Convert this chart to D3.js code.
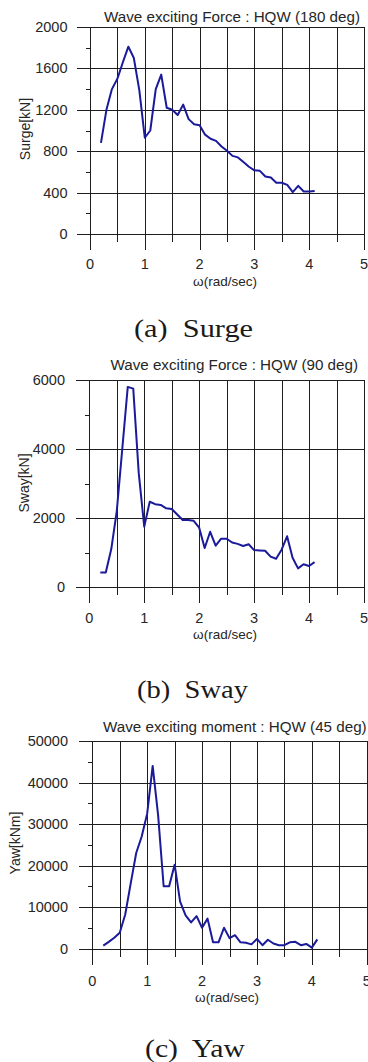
<!DOCTYPE html>
<html><head><meta charset="utf-8">
<script src="https://cdn.jsdelivr.net/npm/d3@7"></script>
<style>html,body{margin:0;padding:0;background:#fff;} svg{display:block;}</style>
</head><body>
<svg id="chart" width="368" height="1062"></svg>
<script>
// ---------------- data ----------------
const omega = [0.2,0.3,0.4,0.5,0.6,0.7,0.8,0.9,1.0,1.1,1.2,1.3,1.4,1.5,1.6,1.7,1.8,1.9,2.0,2.1,
               2.2,2.3,2.4,2.5,2.6,2.7,2.8,2.9,3.0,3.1,3.2,3.3,3.4,3.5,3.6,3.7,3.8,3.9,4.0,4.1];
const surgeKN = [880,1200,1400,1500,1660,1810,1700,1390,930,1000,1400,1540,1220,1200,1150,1250,1110,1060,1050,960,
                 920,900,845,805,755,740,695,650,615,610,555,545,495,495,475,405,465,410,410,415];
const swayKN = [420,420,1100,2200,4000,5800,5750,3300,1750,2470,2400,2380,2280,2260,2100,1940,1940,1920,1720,1130,
                1600,1200,1400,1400,1290,1250,1190,1240,1070,1060,1050,880,820,1080,1470,850,540,660,610,720];
const yawKNm = [700,1600,2600,3800,8200,15700,23000,27000,32500,44000,32000,15000,15000,20200,11300,8000,6300,7800,5000,7200,
                1500,1500,5000,2500,3200,1500,1400,1000,2300,800,2100,1200,800,800,1500,1600,800,1100,200,2200];

const xTicks = [0,1,2,3,4,5];
const xGrid = [0,0.5,1,1.5,2,2.5,3,3.5,4,4.5,5];
const surgeTicks = [0,400,800,1200,1600,2000];
const surgeMinor = [200,600,1000,1400,1800];
const swayTicks = [0,2000,4000,6000];
const swayMinor = [1000,3000,5000];
const yawTicks = [0,10000,20000,30000,40000,50000];
const yawMinor = [5000,15000,25000,35000,45000];

const titles = ["Wave exciting Force : HQW (180 deg)","Wave exciting Force : HQW (90 deg)","Wave exciting moment : HQW (45 deg)"];
const yLabels = ["Surge[kN]","Sway[kN]","Yaw[kNm]"];
const xLabel = "\u03c9(rad/sec)";
const captions = ["(a)  Surge","(b)  Sway","(c)  Yaw"];

// ---------------- layout ----------------
const panels = [
  {values: surgeKN, ticks: surgeTicks, minor: surgeMinor, yMax: 2000,
   x0: 90, x1: 364, yBot: 234, yTop: 27, labelRight: 67.5, titleRight: 360, titleY: 21.7,
   yLabX: 29.5, yLabY: 129, xTickY: 269, xTitleY: 285.5, xTitleX: 225,
   capX: 193.5, capY: 337, capW: 119},
  {values: swayKN, ticks: swayTicks, minor: swayMinor, yMax: 6000,
   x0: 89.3, x1: 364, yBot: 587, yTop: 380, labelRight: 65, titleRight: 358, titleY: 370,
   yLabX: 29, yLabY: 483, xTickY: 623, xTitleY: 639, xTitleX: 225,
   capX: 192.5, capY: 698, capW: 111},
  {values: yawKNm, ticks: yawTicks, minor: yawMinor, yMax: 50000,
   x0: 92.3, x1: 366.7, yBot: 948.5, yTop: 741, labelRight: 68, titleRight: 366.7, titleY: 731.7,
   yLabX: 19.5, yLabY: 843, xTickY: 986, xTitleY: 1001.5, xTitleX: 227,
   capX: 195, capY: 1057, capW: 100}
];

const svg = d3.select("#chart");
svg.append("rect").attr("width",368).attr("height",1062).attr("fill","#fff");
const sans = "'Liberation Sans', Arial, sans-serif";
const gridColor = "#1e1e1e";
const textColor = "#262626";
const px = v => Math.round(v) + 0.5;

panels.forEach((p, i) => {
  const x = d3.scaleLinear().domain([0,5]).range([p.x0, p.x1]);
  const y = d3.scaleLinear().domain([0,p.yMax]).range([p.yBot, p.yTop]);
  const g = svg.append("g");

  // vertical grid lines (extend below axis as ticks)
  g.selectAll(".vg").data(xGrid).join("line")
    .attr("x1", d => px(x(d))).attr("x2", d => px(x(d)))
    .attr("y1", px(y(p.yMax)))
    .attr("y2", d => px(y(0)) + (Number.isInteger(d) ? 15 : 7.5))
    .attr("stroke", gridColor).attr("stroke-width", 1).attr("shape-rendering","crispEdges");

  // horizontal major grid lines
  g.selectAll(".hg").data(p.ticks).join("line")
    .attr("x1", px(x(0)) - 14).attr("x2", px(x(5)))
    .attr("y1", d => px(y(d))).attr("y2", d => px(y(d)))
    .attr("stroke", gridColor).attr("stroke-width", 1).attr("shape-rendering","crispEdges");

  // minor ticks
  g.selectAll(".mt").data(p.minor).join("line")
    .attr("x1", px(x(0)) - 5).attr("x2", px(x(0)))
    .attr("y1", d => px(y(d))).attr("y2", d => px(y(d)))
    .attr("stroke", gridColor).attr("stroke-width", 1).attr("shape-rendering","crispEdges");

  // y tick labels
  g.selectAll(".yl").data(p.ticks).join("text")
    .attr("x", p.labelRight).attr("y", d => y(d) + 5)
    .attr("text-anchor","end").attr("font-family", sans).attr("font-size", 14.5)
    .attr("fill", textColor).text(d => d);

  // x tick labels
  g.selectAll(".xl").data(xTicks).join("text")
    .attr("x", d => x(d)).attr("y", p.xTickY)
    .attr("text-anchor","middle").attr("font-family", sans).attr("font-size", 14.5)
    .attr("fill", textColor).text(d => d);

  // x axis title
  g.append("text").attr("x", p.xTitleX).attr("y", p.xTitleY)
    .attr("text-anchor","middle").attr("font-family", sans).attr("font-size", 13.5)
    .attr("fill", textColor).text(xLabel);

  // y axis title
  g.append("text").attr("transform", `translate(${p.yLabX},${p.yLabY}) rotate(-90)`)
    .attr("text-anchor","middle").attr("font-family", sans).attr("font-size", 14)
    .attr("fill", textColor).text(yLabels[i]);

  // chart title
  g.append("text").attr("x", p.titleRight).attr("y", p.titleY)
    .attr("text-anchor","end").attr("font-family", sans).attr("font-size", 15.2)
    .attr("fill", textColor).text(titles[i]);

  // data line
  const line = d3.line().x((d, k) => x(omega[k])).y(d => y(d));
  g.append("path").datum(p.values).attr("d", line)
    .attr("fill","none").attr("stroke","#1a1a9a").attr("stroke-width", 2)
    .attr("stroke-linejoin","round");

  // caption
  g.append("text").attr("x", p.capX).attr("y", p.capY)
    .attr("text-anchor","middle").attr("font-family","'Liberation Serif', 'Times New Roman', serif")
    .attr("font-size", 26).attr("fill","#1a1a1a")
    .attr("textLength", p.capW).attr("lengthAdjust","spacingAndGlyphs")
    .style("white-space","pre").text(captions[i]);
});
</script>
</body></html>
